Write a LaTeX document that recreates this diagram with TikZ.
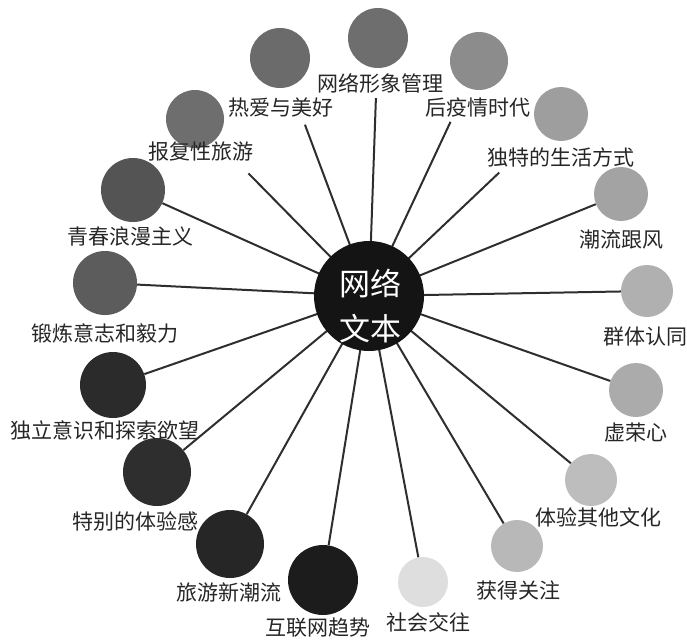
\documentclass[tikz,border=0pt]{standalone}
\usepackage{fontspec}
\newfontfamily\cjk{Noto Sans CJK SC}
\begin{document}
\begin{tikzpicture}[x=1pt,y=-1pt,
  bub/.style={circle,inner sep=0pt,minimum size=#1},
  lbl/.style={font=\cjk\fontsize{21}{24}\selectfont,text=black!85,inner sep=1pt},
  spoke/.style={draw=black!82,line width=2pt},
  hub/.style={circle,fill=black!92,inner sep=0pt,minimum size=110pt},
  hubtext/.style={text=white,font=\cjk\fontsize{31}{45}\selectfont,align=center,inner sep=0pt}]
\useasboundingbox (0,0) rectangle (687,640);
% hub position
\coordinate (hc) at (369,296);
% outer bubbles
\node[bub=60pt,fill=black!57] (b1) at (378,38) {};
\node[bub=58pt,fill=black!45] (b2) at (479,61) {};
\node[bub=60pt,fill=black!58] (b3) at (280,58) {};
\node[bub=58pt,fill=black!57] (b4) at (195,119) {};
\node[bub=64pt,fill=black!67] (b5) at (133,190) {};
\node[bub=64pt,fill=black!64] (b6) at (105,283) {};
\node[bub=66pt,fill=black!83] (b7) at (113,385) {};
\node[bub=68pt,fill=black!82] (b8) at (157,472) {};
\node[bub=68pt,fill=black!85] (b9) at (230,544) {};
\node[bub=70pt,fill=black!89] (b10) at (323,580) {};
\node[bub=50pt,fill=black!13] (b11) at (423,582) {};
\node[bub=52pt,fill=black!28] (b12) at (517,546) {};
\node[bub=52pt,fill=black!26] (b13) at (591,480) {};
\node[bub=54pt,fill=black!33] (b14) at (636,390) {};
\node[bub=52pt,fill=black!31] (b15) at (647,291) {};
\node[bub=54pt,fill=black!36] (b16) at (621,194) {};
\node[bub=54pt,fill=black!38] (b17) at (561,114) {};
% labels
\node[lbl] (l1) at (380,83) {网络形象管理};
\node[lbl] (l2) at (478,107) {后疫情时代};
\node[lbl] (l3) at (281,108) {热爱与美好};
\node[lbl] (l4) at (201,152) {报复性旅游};
\node[lbl] (l5) at (130,237) {青春浪漫主义};
\node[lbl] (l6) at (105,333) {锻炼意志和毅力};
\node[lbl] (l7) at (105,430) {独立意识和探索欲望};
\node[lbl] (l8) at (135,521) {特别的体验感};
\node[lbl] (l9) at (229,592) {旅游新潮流};
\node[lbl] (l10) at (318,628) {互联网趋势};
\node[lbl] (l11) at (428,622) {社会交往};
\node[lbl] (l12) at (518,590) {获得关注};
\node[lbl] (l13) at (598,517) {体验其他文化};
\node[lbl] (l14) at (636,433) {虚荣心};
\node[lbl] (l15) at (645,337) {群体认同};
\node[lbl] (l16) at (621,240) {潮流跟风};
\node[lbl] (l17) at (561,157) {独特的生活方式};
% spokes
\draw[spoke,shorten >=30pt] (hc) -- (b1);
\draw[spoke,shorten >=38pt] (hc) -- (b2);
\draw[spoke,shorten >=41pt] (hc) -- (b3);
\draw[spoke,shorten >=47pt] (hc) -- (b4);
\draw[spoke] (hc) -- (b5);
\draw[spoke] (hc) -- (b6);
\draw[spoke] (hc) -- (b7);
\draw[spoke] (hc) -- (b8);
\draw[spoke] (hc) -- (b9);
\draw[spoke] (hc) -- (b10);
\draw[spoke] (hc) -- (b11);
\draw[spoke] (hc) -- (b12);
\draw[spoke] (hc) -- (b13);
\draw[spoke] (hc) -- (b14);
\draw[spoke] (hc) -- (b15);
\draw[spoke] (hc) -- (b16);
\draw[spoke,shorten >=58pt] (hc) -- (b17);
% hub
\node[hub] (hub) at (hc) {};
\node[hubtext] (hubt) at (370,306) {网络\\文本};
\end{tikzpicture}
\end{document}
